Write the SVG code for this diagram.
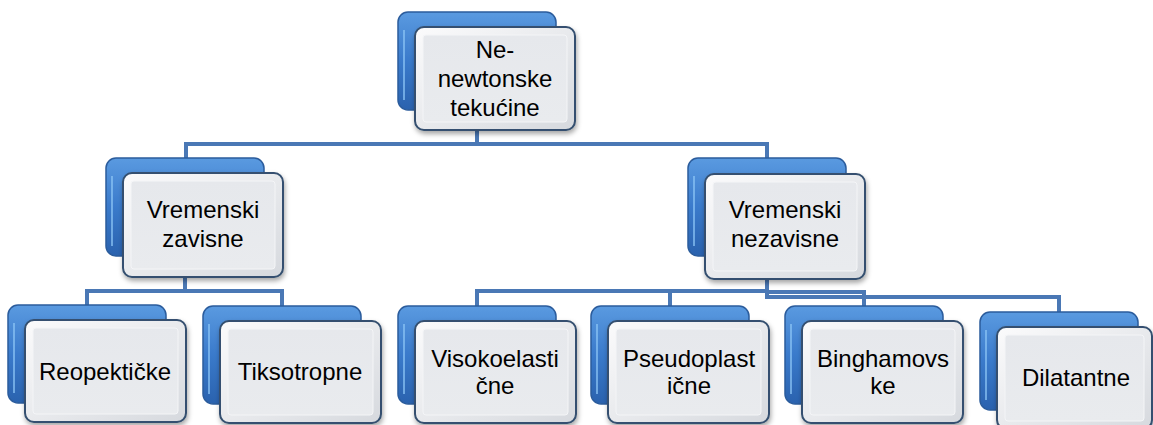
<svg xmlns="http://www.w3.org/2000/svg" width="1153" height="425" viewBox="0 0 1153 425">
<defs>
<linearGradient id="gBlue" x1="0" y1="0" x2="0" y2="1">
<stop offset="0" stop-color="#5a9ae0"/>
<stop offset="0.5" stop-color="#3a7acb"/>
<stop offset="1" stop-color="#2a62ae"/>
</linearGradient>
<linearGradient id="gFront" x1="0" y1="0" x2="1" y2="1">
<stop offset="0" stop-color="#fbfbfc"/>
<stop offset="1" stop-color="#d6d9de"/>
</linearGradient>
<linearGradient id="gInner" x1="0" y1="0" x2="0" y2="1">
<stop offset="0" stop-color="#e6e8ec"/>
<stop offset="1" stop-color="#e9ebee"/>
</linearGradient>
<filter id="sh" x="-10%" y="-10%" width="125%" height="130%">
<feDropShadow dx="1" dy="3" stdDeviation="2.5" flood-color="#000" flood-opacity="0.35"/>
</filter>
</defs>
<style>
.back{fill:url(#gBlue);stroke:#2b5c9c;stroke-width:1.5}
.backhl{fill:none;stroke:#8cc4f5;stroke-width:2;opacity:0.7}
.front{fill:url(#gFront);stroke:#34506f;stroke-width:2;filter:url(#sh)}
.inner{fill:url(#gInner);stroke:#f4f5f7;stroke-width:1}
.t{font-family:"Liberation Sans",Arial,sans-serif;font-size:24px;fill:#000;text-anchor:middle}
.c{fill:none;stroke:#4a78b5;stroke-width:4;stroke-linejoin:miter}
</style>
<rect width="1153" height="425" fill="#fff"/>
<g id="connectors">
<path class="c" d="M477,110 V144 H186 V158"/>
<path class="c" d="M477,110 V144 H767 V158"/>
<path class="c" d="M185,256 V291 H87 V305"/>
<path class="c" d="M185,256 V291 H282 V306"/>
<path class="c" d="M767,256 V291 H477 V306"/>
<path class="c" d="M767,256 V291 H670 V306"/>
<path class="c" d="M767,256 V292 H864 V306"/>
<path class="c" d="M767,256 V297 H1059 V312"/>
</g>
<g id="n-root">
<rect class="back" x="398" y="12" width="158" height="98" rx="10"/>
<path class="backhl" d="M404,30 V100"/>
<rect class="front" x="415" y="27" width="160" height="103" rx="9"/>
<rect class="inner" x="423" y="35" width="144" height="87" rx="3"/>
<text class="t" x="495" y="58">Ne-</text>
<text class="t" x="495" y="87">newtonske</text>
<text class="t" x="495" y="116">tekućine</text>
</g>
<g id="n-zavisne">
<rect class="back" x="106" y="158" width="158" height="98" rx="10"/>
<path class="backhl" d="M112,176 V246"/>
<rect class="front" x="123" y="173" width="160" height="104" rx="9"/>
<rect class="inner" x="131" y="181" width="144" height="88" rx="3"/>
<text class="t" x="203" y="218">Vremenski</text>
<text class="t" x="203" y="247">zavisne</text>
</g>
<g id="n-nezavisne">
<rect class="back" x="688" y="158" width="158" height="98" rx="10"/>
<path class="backhl" d="M694,176 V246"/>
<rect class="front" x="705" y="174" width="160" height="105" rx="9"/>
<rect class="inner" x="713" y="182" width="144" height="89" rx="3"/>
<text class="t" x="785" y="218">Vremenski</text>
<text class="t" x="785" y="247">nezavisne</text>
</g>
<g id="n-reopekticke">
<rect class="back" x="8" y="305" width="158" height="98" rx="10"/>
<path class="backhl" d="M14,323 V393"/>
<rect class="front" x="25" y="320" width="161" height="102" rx="9"/>
<rect class="inner" x="33" y="328" width="145" height="86" rx="3"/>
<text class="t" x="105" y="380">Reopektičke</text>
</g>
<g id="n-tiksotropne">
<rect class="back" x="203" y="306" width="158" height="98" rx="10"/>
<path class="backhl" d="M209,324 V394"/>
<rect class="front" x="220" y="321" width="161" height="102" rx="9"/>
<rect class="inner" x="228" y="329" width="145" height="86" rx="3"/>
<text class="t" x="300" y="380">Tiksotropne</text>
</g>
<g id="n-visokoelasticne">
<rect class="back" x="398" y="306" width="158" height="98" rx="10"/>
<path class="backhl" d="M404,324 V394"/>
<rect class="front" x="415" y="321" width="161" height="102" rx="9"/>
<rect class="inner" x="423" y="329" width="145" height="86" rx="3"/>
<text class="t" x="495" y="367">Visokoelasti</text>
<text class="t" x="495" y="394">čne</text>
</g>
<g id="n-pseudoplasticne">
<rect class="back" x="591" y="306" width="158" height="98" rx="10"/>
<path class="backhl" d="M597,324 V394"/>
<rect class="front" x="608" y="321" width="161" height="102" rx="9"/>
<rect class="inner" x="616" y="329" width="145" height="86" rx="3"/>
<text class="t" x="689" y="367">Pseudoplast</text>
<text class="t" x="689" y="394">ične</text>
</g>
<g id="n-binghamovske">
<rect class="back" x="785" y="306" width="158" height="98" rx="10"/>
<path class="backhl" d="M791,324 V394"/>
<rect class="front" x="802" y="321" width="161" height="102" rx="9"/>
<rect class="inner" x="810" y="329" width="145" height="86" rx="3"/>
<text class="t" x="883" y="367">Binghamovs</text>
<text class="t" x="883" y="394">ke</text>
</g>
<g id="n-dilatantne">
<rect class="back" x="980" y="312" width="158" height="98" rx="10"/>
<path class="backhl" d="M986,330 V400"/>
<rect class="front" x="997" y="327" width="155" height="102" rx="9"/>
<rect class="inner" x="1005" y="335" width="139" height="86" rx="3"/>
<text class="t" x="1076" y="386">Dilatantne</text>
</g>
</svg>
